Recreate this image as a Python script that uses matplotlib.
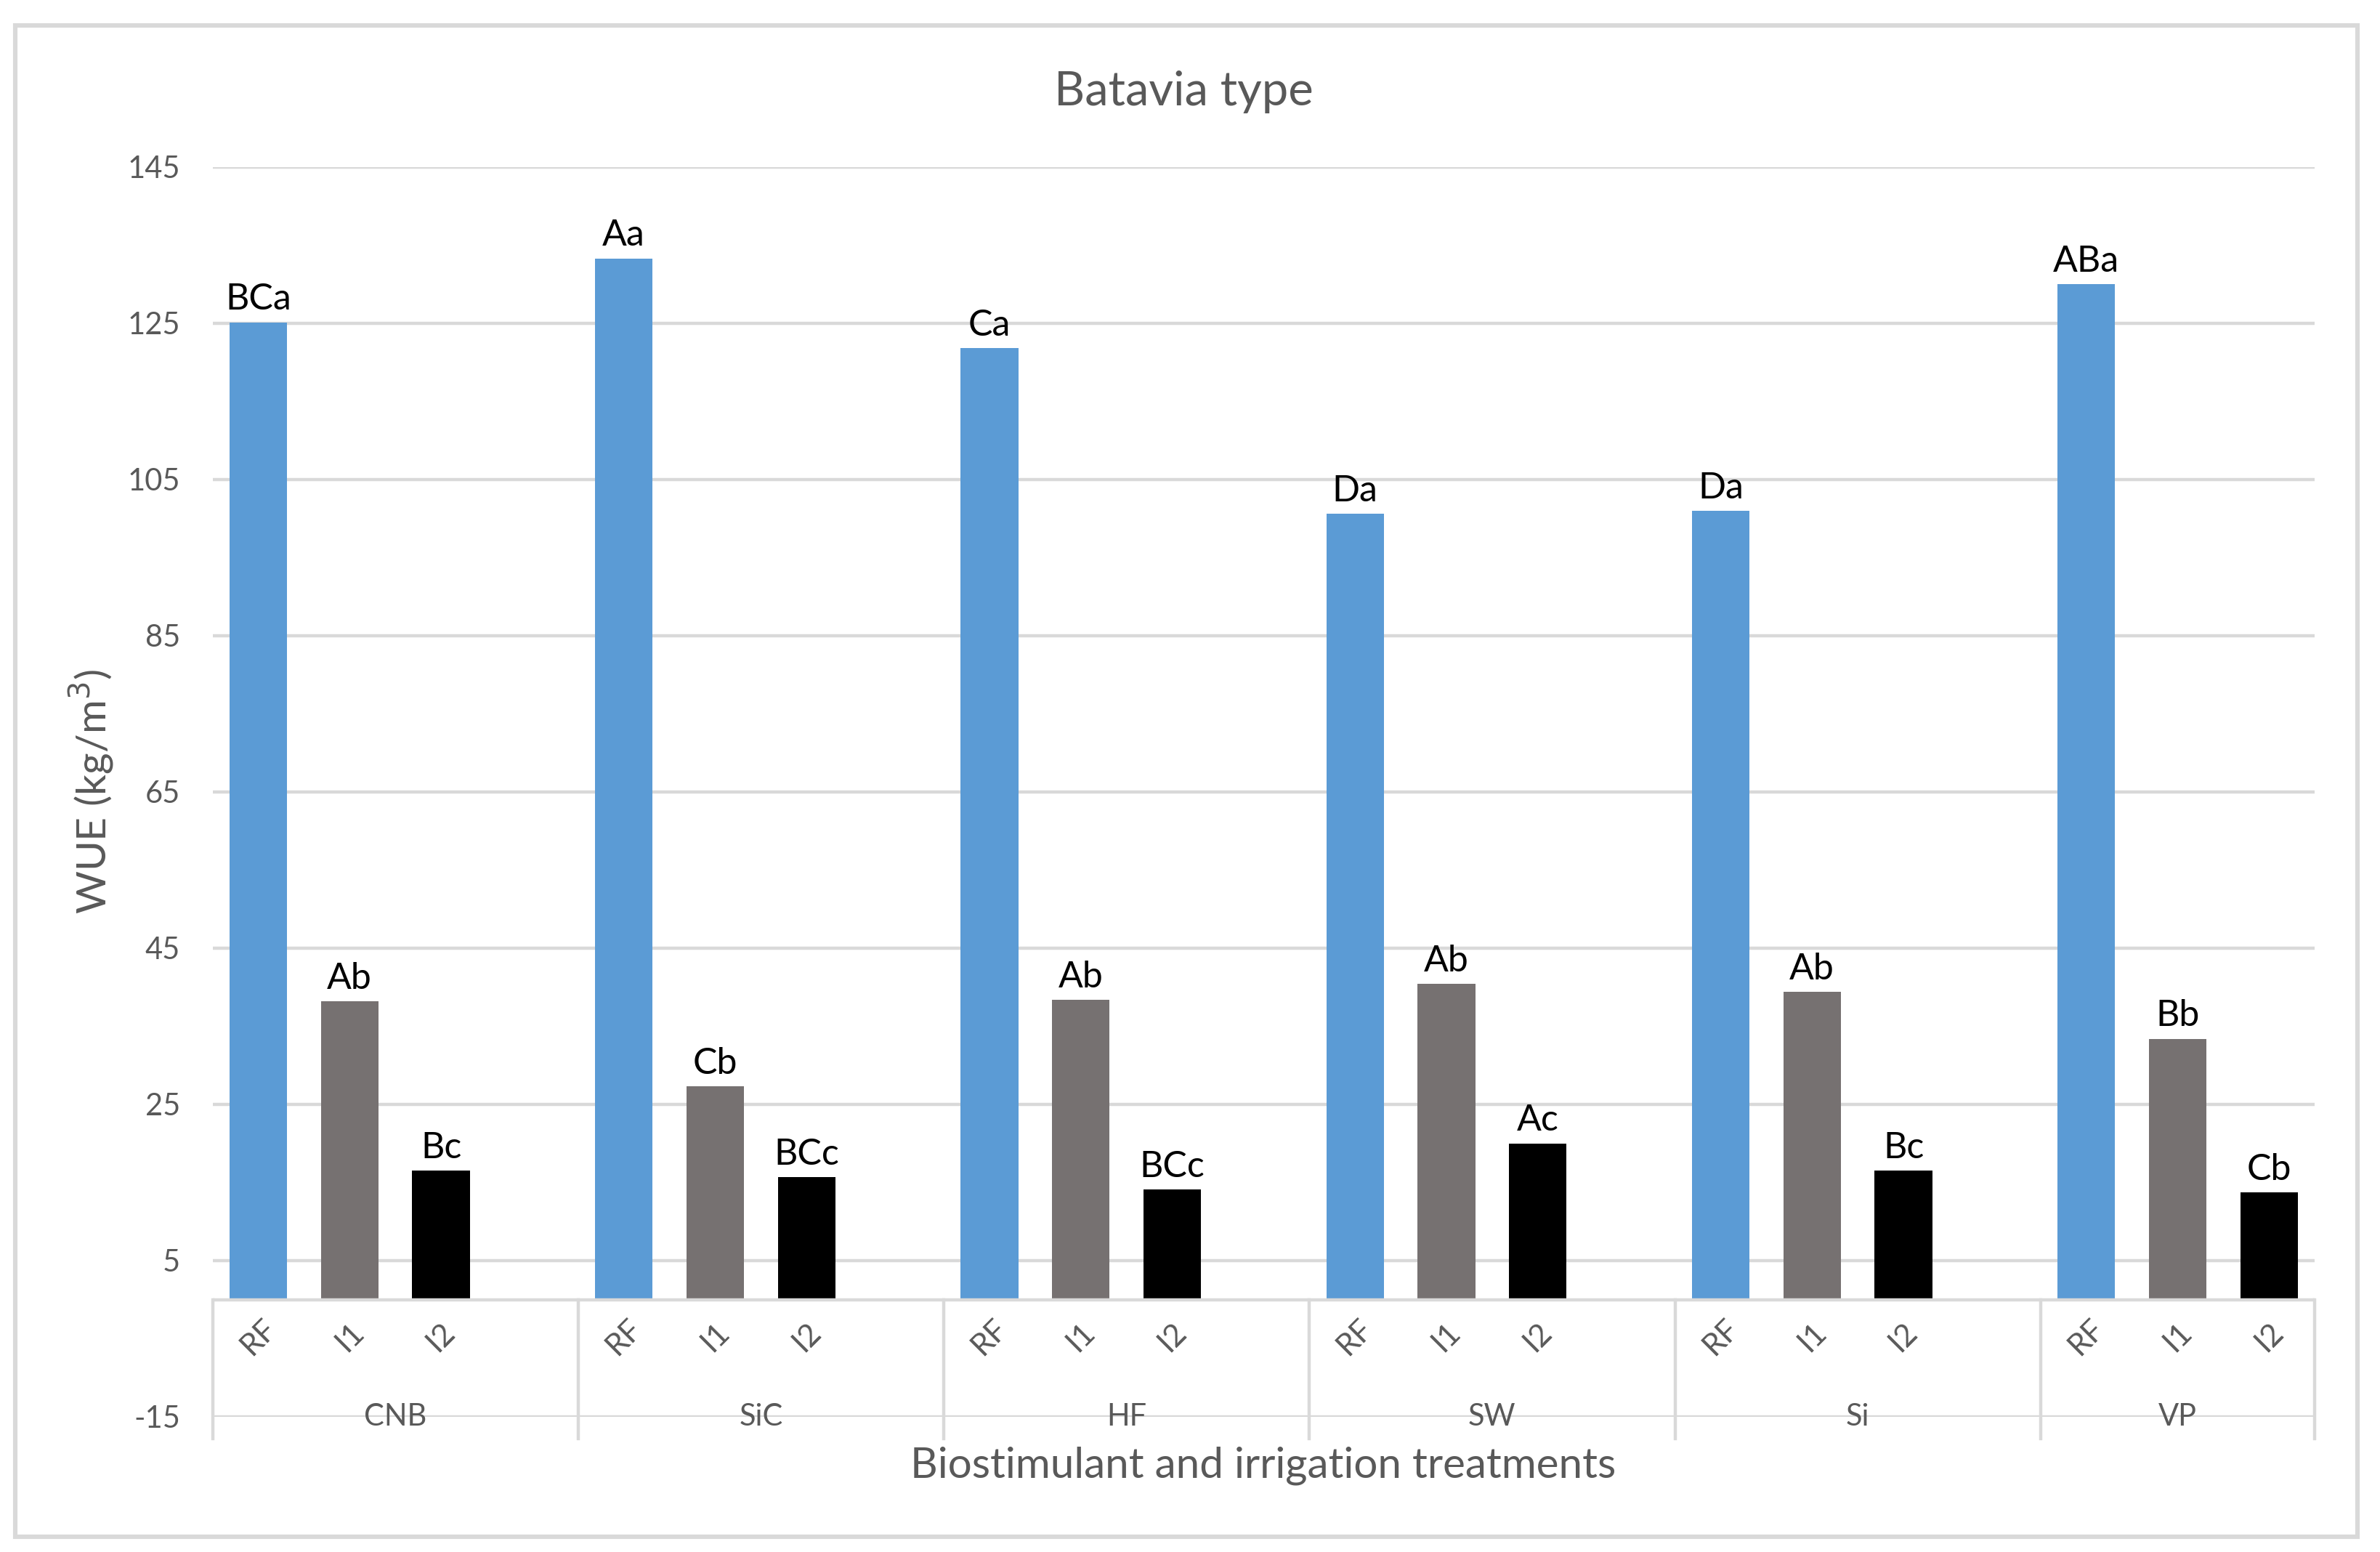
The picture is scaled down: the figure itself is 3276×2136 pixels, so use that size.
import matplotlib.pyplot as plt
from matplotlib.patches import Rectangle

plt.rcParams['font.family'] = ['Lato', 'DejaVu Sans']
plt.rcParams['axes.unicode_minus'] = False

# data
groups = ["CNB", "SiC", "HF", "SW", "Si", "VP"]
treatments = ["RF", "I1", "I2"]
rf_values = [125.1, 133.3, 121.8, 100.6, 101.0, 130.0]
i1_values = [38.2, 27.3, 38.4, 40.4, 39.4, 33.4]
i2_values = [16.5, 15.7, 14.1, 20.0, 16.5, 13.7]
rf_letters = ["BCa", "Aa", "Ca", "Da", "Da", "ABa"]
i1_letters = ["Ab", "Cb", "Ab", "Ab", "Ab", "Bb"]
i2_letters = ["Bc", "BCc", "BCc", "Ac", "Bc", "Cb"]
y_ticks = [-15, 5, 25, 45, 65, 85, 105, 125, 145]

colors = ["#5B9BD5", "#767171", "#000000"]
grid_col = "#D9D9D9"
text_col = "#595959"

fig = plt.figure(figsize=(16.38, 10.68), dpi=200)
fig.patches.append(Rectangle((0.0064, 0.0098), 0.984, 0.9736, transform=fig.transFigure,
                             fill=False, edgecolor=grid_col, linewidth=2.2))

ax = fig.add_axes([0.0893, 0.0871, 0.8833, 0.8053])

series = [rf_values, i1_values, i2_values]
letters = [rf_letters, i1_letters, i2_letters]
n_slots = len(groups) * 4 - 1

for j, (vals, labs) in enumerate(zip(series, letters)):
    xs = [g * 4 + j for g in range(len(groups))]
    ax.bar(xs, vals, width=0.63, color=colors[j], zorder=3)
    for x, v, lab in zip(xs, vals, labs):
        ax.annotate(lab, (x, v), xytext=(0, 3), textcoords="offset points",
                    ha="center", va="bottom", fontsize=18, color="black")

ax.set_xlim(-0.5, n_slots - 0.5)
ax.set_ylim(-15, 145)
ax.set_yticks(y_ticks)
ax.tick_params(axis="y", length=0, pad=16, labelsize=15, labelcolor=text_col)
ax.set_xticks([])
ax.grid(axis="y", color=grid_col, linewidth=1.6, zorder=0)
for s in ax.spines.values():
    s.set_visible(False)

# category axis at zero
ax.axhline(0, color=grid_col, linewidth=1.6, zorder=4)

# sub category labels and group labels
for g, name in enumerate(groups):
    for j, t in enumerate(treatments):
        ax.text(g * 4 + j, -4.8, t, rotation=45, ha="center", va="center",
                fontsize=15.5, color=text_col)
    mid = (g * 4 - 0.5 + min(g * 4 + 3.5, n_slots - 0.5)) / 2
    ax.text(mid, -15, name, ha="center", va="center", fontsize=15, color=text_col)

seps = [g * 4 - 0.5 for g in range(len(groups))] + [n_slots - 0.5]
for x in seps:
    ax.plot([x, x], [0, -17.8], color=grid_col, linewidth=1.6, clip_on=False, zorder=4)

fig.text(0.4975, 0.941, "Batavia type", ha="center", va="center", fontsize=23.5, color=text_col)
fig.text(0.5306, 0.0558, "Biostimulant and irrigation treatments", ha="center", va="center",
         fontsize=21, color=text_col)
fig.text(0.0383, 0.49, "WUE (kg/m$^3$)", ha="center", va="center", rotation=90,
         fontsize=20.5, color=text_col)

fig.savefig("out.png", dpi=200)
